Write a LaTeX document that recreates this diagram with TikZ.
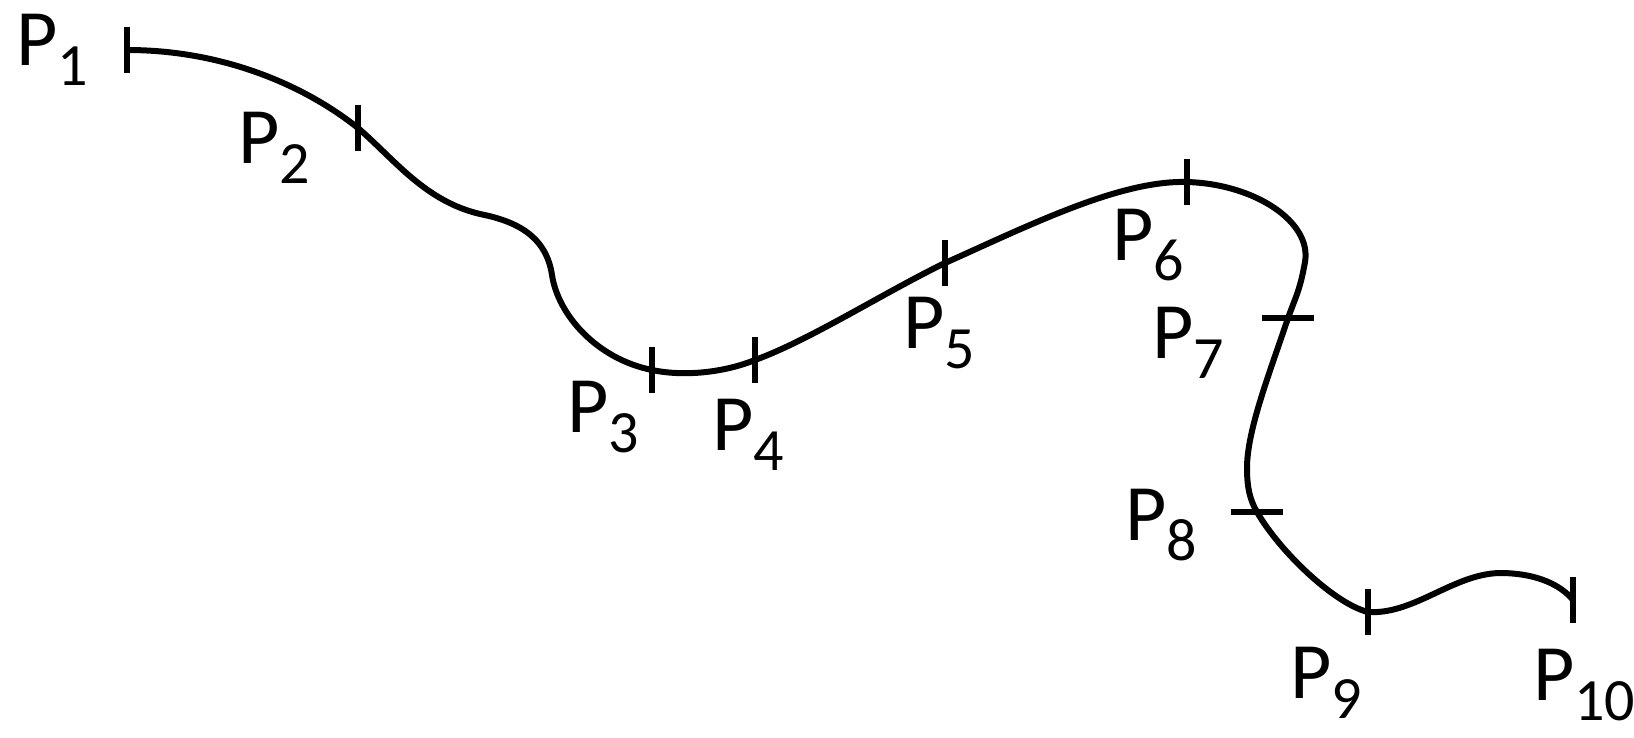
\documentclass[tikz,border=0pt]{standalone}
\usepackage{fontspec}
\setmainfont{Carlito}
\newcommand{\plbl}[1]{P\raisebox{-20pt}{\fontsize{60}{60}\selectfont #1}}
\tikzset{
  curveline/.style={line width=6pt, line cap=round, line join=round},
  tickline/.style={line width=5.5pt},
  plabel/.style={anchor=base west, inner sep=0pt, font=\fontsize{80}{96}\selectfont}
}
\begin{document}
\begin{tikzpicture}[x=1pt,y=-1pt]
\useasboundingbox (0,0) rectangle (1634,737);
% points on the path
\coordinate (p1) at (127,50);
\coordinate (p2) at (358,128);
\coordinate (p3) at (652,370);
\coordinate (p4) at (755,360);
\coordinate (p5) at (945,263);
\coordinate (p6) at (1187,182);
\coordinate (p7) at (1288,318);
\coordinate (p8) at (1257,512);
\coordinate (p9) at (1368,612);
\coordinate (p10) at (1573,600);
\coordinate (s1) at (480,214);
\coordinate (s2) at (552,275);
\coordinate (s3) at (1305,262);
\coordinate (s4) at (1247,468);
\coordinate (s5) at (1503,573);
% the path
\draw[curveline] (p1)
  .. controls (227,50) and (308,88) .. (p2)
  .. controls (395,160) and (425,201) .. (s1)
  .. controls (515,221) and (546,235) .. (s2)
  .. controls (558,315) and (597,359) .. (p3)
  .. controls (680,376) and (720,374) .. (p4)
  .. controls (810,340) and (885,292) .. (p5)
  .. controls (1030,225) and (1120,180) .. (p6)
  .. controls (1255,184) and (1312,222) .. (s3)
  .. controls (1300,290) and (1296,296) .. (p7)
  .. controls (1270,372) and (1247,430) .. (s4)
  .. controls (1247,488) and (1250,500) .. (p8)
  .. controls (1280,552) and (1335,604) .. (p9)
  .. controls (1415,615) and (1455,572) .. (s5)
  .. controls (1545,574) and (1565,590) .. (p10);
% ticks
\foreach \p in {p1,p2,p3,p4,p5,p6,p9,p10}
  \draw[tickline] ([yshift=23pt]\p) -- ([yshift=-23pt]\p);
\foreach \p in {p7,p8}
  \draw[tickline] ([xshift=-26pt]\p) -- ([xshift=26pt]\p);
% labels
\node[plabel] (l1) at (16,65) {\plbl{1}};
\node[plabel] (l2) at (238,163) {\plbl{2}};
\node[plabel] (l3) at (567,432) {\plbl{3}};
\node[plabel] (l4) at (712,450) {\plbl{4}};
\node[plabel] (l5) at (903,348) {\plbl{5}};
\node[plabel] (l6) at (1112,260) {\plbl{6}};
\node[plabel] (l7) at (1152,358) {\plbl{7}};
\node[plabel] (l8) at (1125,540) {\plbl{8}};
\node[plabel] (l9) at (1290,698) {\plbl{9}};
\node[plabel] (l10) at (1533,700) {\plbl{10}};
\end{tikzpicture}
\end{document}
